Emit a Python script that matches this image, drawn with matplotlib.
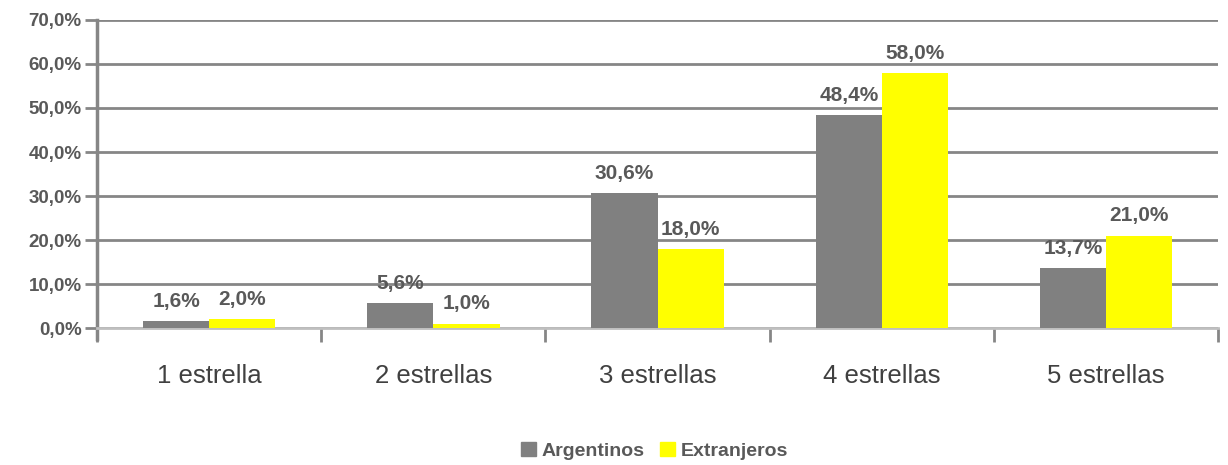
import numpy as np
import matplotlib.pyplot as plt
from matplotlib.patches import Patch

categories = ["1 estrella", "2 estrellas", "3 estrellas", "4 estrellas", "5 estrellas"]
argentinos = [1.6, 5.6, 30.6, 48.4, 13.7]
extranjeros = [2.0, 1.0, 18.0, 58.0, 21.0]
series_names = ["Argentinos", "Extranjeros"]

plt.rcParams['font.family'] = ['Liberation Sans', 'DejaVu Sans']

fig = plt.figure(figsize=(12.28, 4.65), dpi=100)
ax = fig.add_axes([0.079, 0.2946, 0.913, 0.6624])

x = np.arange(len(categories))
w = 0.295
c_arg = "#808080"
c_ext = "#ffff00"
ax.bar(x - w / 2, argentinos, w, color=c_arg, zorder=3)
ax.bar(x + w / 2, extranjeros, w, color=c_ext, zorder=3)

def fmt(v):
    return ("%.1f%%" % v).replace(".", ",")

for xi, v in zip(x, argentinos):
    ax.text(xi - w / 2, v + 2.3, fmt(v), ha="center", va="bottom", fontsize=15,
            fontweight="bold", color="#595959", zorder=4)
for xi, v in zip(x, extranjeros):
    ax.text(xi + w / 2, v + 2.3, fmt(v), ha="center", va="bottom", fontsize=15,
            fontweight="bold", color="#595959", zorder=4)

ax.set_ylim(0, 70)
ax.set_xlim(-0.5, len(categories) - 0.5)
yt = np.arange(0, 71, 10)
ax.set_yticks(yt)
ax.set_yticklabels([fmt(v) for v in yt], fontsize=13.5, fontweight="bold", color="#595959")
ax.yaxis.grid(True, color="#868686", linewidth=2, zorder=0)
ax.tick_params(axis="y", length=9, width=2, color="#868686", pad=2)

ax.set_xticks(x)
ax.set_xticklabels(categories, fontsize=18.5, color="#404040")
ax.set_xticks(np.arange(-0.5, len(categories)), minor=True)
ax.tick_params(axis="x", which="major", length=0, pad=26)
ax.tick_params(axis="x", which="minor", length=10, width=2, color="#868686")

for s in ["top", "right"]:
    ax.spines[s].set_visible(False)
ax.spines["left"].set_color("#868686")
ax.spines["left"].set_linewidth(2.5)
ax.spines["left"].set_bounds(-2.5, 70)
ax.spines["bottom"].set_color("#bfbfbf")
ax.spines["bottom"].set_linewidth(2)

handles = [Patch(color=c_arg), Patch(color=c_ext)]
fig.legend(handles, series_names, loc="center", bbox_to_anchor=(0.533, 0.03), ncol=2,
           frameon=False, handlelength=0.75, handleheight=0.75, handletextpad=0.3,
           columnspacing=0.8, prop={"size": 14, "weight": "bold"},
           labelcolor="#595959")

fig.savefig("out.png", dpi=100)
